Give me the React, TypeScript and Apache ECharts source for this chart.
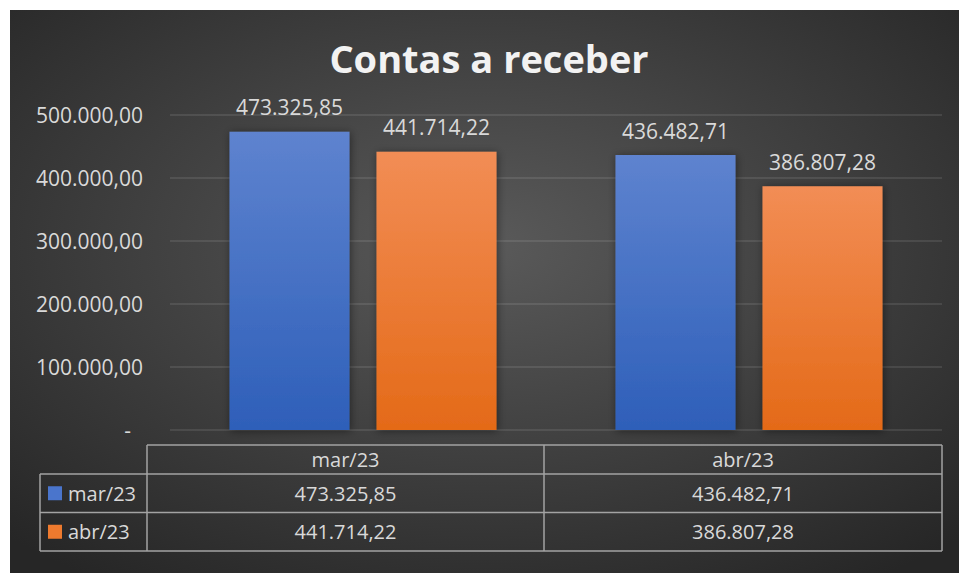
import React, { useEffect, useRef } from "react";
import * as echarts from "echarts";

const categories = ["mar/23", "abr/23"];
const seriesNames = ["mar/23", "abr/23"];
const marValues = [473325.85, 436482.71];
const abrValues = [441714.22, 386807.28];
const yTicks = [0, 100000, 200000, 300000, 400000, 500000];
const titleText = "Contas a receber";

const FONT = "'Open Sans', 'Noto Sans', sans-serif";
const TXT = "#d9d9d9";

function fmt(v: number): string {
  if (v === 0) return "-";
  const fixed = Math.abs(v).toFixed(2);
  const [intPart, dec] = fixed.split(".");
  const withDots = intPart.replace(/\B(?=(\d{3})+(?!\d))/g, ".");
  return (v < 0 ? "-" : "") + withDots + "," + dec;
}

const blueGrad = () =>
  new echarts.graphic.LinearGradient(0, 0, 0, 1, [
    { offset: 0, color: "#5e83cf" },
    { offset: 1, color: "#2e5fb9" },
  ]);
const orangeGrad = () =>
  new echarts.graphic.LinearGradient(0, 0, 0, 1, [
    { offset: 0, color: "#f28d55" },
    { offset: 1, color: "#e46a18" },
  ]);

export default function App() {
  const ref = useRef<HTMLDivElement>(null);
  useEffect(() => {
    if (!ref.current) return;
    const chart = echarts.init(ref.current, undefined, { renderer: "svg" });

    // table layout (chart coords)
    const xL = 30, xH = 137, xM = 534, xR = 932;
    const yTop = 435, yHead = 464, yR1 = 502.5, yR2 = 541;
    const lineStyle = { stroke: "#a3a3a3", lineWidth: 1.5 };
    const mkLine = (x1: number, y1: number, x2: number, y2: number) => ({
      type: "line",
      shape: { x1, y1, x2, y2 },
      style: lineStyle,
      silent: true,
    });
    const mkText = (text: string, x: number, y: number, align: string) => ({
      type: "text",
      x,
      y,
      style: {
        text,
        fill: TXT,
        font: `20px ${FONT}`,
        textAlign: align,
        textVerticalAlign: "middle",
      },
      silent: true,
    });
    const colCenters = [(xH + xM) / 2, (xM + xR) / 2];
    const rows = [marValues, abrValues];
    const rowY = [(yHead + yR1) / 2, (yR1 + yR2) / 2];
    const keyColors = ["#4a75cc", "#ee7a2e"];

    const graphics: any[] = [
      {
        type: "text",
        x: 479,
        y: 48,
        style: {
          text: titleText,
          fill: "#f2f2f2",
          font: `bold 38px ${FONT}`,
          textAlign: "center",
          textVerticalAlign: "middle",
          shadowColor: "rgba(0,0,0,0.6)",
          shadowBlur: 4,
          shadowOffsetX: 1,
          shadowOffsetY: 2,
        },
        silent: true,
      },
      mkLine(xH, yTop, xR, yTop),
      mkLine(xL, yHead, xR, yHead),
      mkLine(xL, yR1, xR, yR1),
      mkLine(xL, yR2, xR, yR2),
      mkLine(xL, yHead, xL, yR2),
      mkLine(xH, yTop, xH, yR2),
      mkLine(xM, yTop, xM, yR2),
      mkLine(xR, yTop, xR, yR2),
    ];
    categories.forEach((c, i) => {
      graphics.push(mkText(c, colCenters[i], (yTop + yHead) / 2, "center"));
    });
    rows.forEach((vals, r) => {
      graphics.push({
        type: "rect",
        shape: { x: 38, y: rowY[r] - 7, width: 14, height: 14 },
        style: { fill: keyColors[r] },
        silent: true,
      });
      graphics.push(mkText(seriesNames[r], 58, rowY[r], "left"));
      vals.forEach((v, i) => {
        graphics.push(mkText(fmt(v), colCenters[i], rowY[r], "center"));
      });
    });

    const labelCfg = {
      show: true,
      position: "top",
      distance: 14,
      color: TXT,
      fontSize: 21,
      fontFamily: FONT,
      formatter: (p: any) => fmt(p.value),
    };
    const shadow = {
      shadowColor: "rgba(0,0,0,0.45)",
      shadowBlur: 8,
      shadowOffsetX: 1,
      shadowOffsetY: 1,
    };

    chart.setOption({
      animation: false,
      backgroundColor: {
        type: "radial",
        x: 0.5,
        y: 0.42,
        r: 0.72,
        colorStops: [
          { offset: 0, color: "#5a5a5a" },
          { offset: 1, color: "#262626" },
        ],
      },
      grid: { left: 160, right: 17, top: 105, bottom: 143, containLabel: false },
      xAxis: {
        type: "category",
        data: categories,
        axisLine: { show: false },
        axisTick: { show: false },
        axisLabel: { show: false },
      },
      yAxis: {
        type: "value",
        min: yTicks[0],
        max: yTicks[yTicks.length - 1],
        interval: yTicks[1] - yTicks[0],
        axisLine: { show: false },
        axisTick: { show: false },
        splitLine: { lineStyle: { color: "rgba(255,255,255,0.13)", width: 1.5 } },
        axisLabel: {
          margin: 27,
          color: TXT,
          fontSize: 21,
          fontFamily: FONT,
          formatter: (v: number) => (v === 0 ? "{z|-}" : fmt(v)),
          rich: {
            z: { color: TXT, fontSize: 21, fontFamily: FONT, padding: [0, 12, 0, 0] },
          },
        },
      },
      series: [
        {
          name: seriesNames[0],
          type: "bar",
          data: marValues,
          barWidth: 120,
          barGap: "22.5%",
          itemStyle: { color: blueGrad(), ...shadow },
          label: labelCfg,
        },
        {
          name: seriesNames[1],
          type: "bar",
          data: abrValues,
          barWidth: 120,
          itemStyle: { color: orangeGrad(), ...shadow },
          label: labelCfg,
        },
      ],
      graphic: graphics,
    });
    return () => chart.dispose();
  }, []);
  return (
    <div
      ref={ref}
      style={{ position: "absolute", left: 10, top: 10, width: 949, height: 563 }}
    />
  );
}
